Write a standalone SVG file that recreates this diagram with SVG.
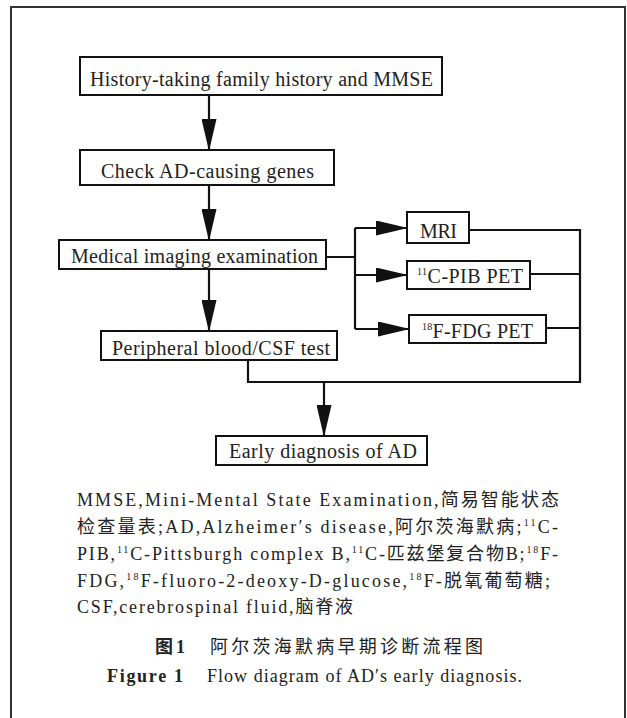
<svg xmlns="http://www.w3.org/2000/svg" width="627" height="718" viewBox="0 0 627 718">
<style>
  .box { fill: #fff; stroke: #111; stroke-width: 2; }
  .lbl { font-family: 'Liberation Serif', 'Noto Sans CJK SC', serif; font-size: 20px; fill: #222; }
  .cap { font-family: 'Liberation Serif', 'Noto Sans CJK SC', serif; font-size: 18px; fill: #222; }
  .bold { font-weight: bold; }
  .sup { font-size: 10px; }
  .line { fill: none; stroke: #111; stroke-width: 2.2; }
  .arrow { fill: none; stroke: #111; stroke-width: 2.2; marker-end: url(#ah); }
</style>
<defs>
  <marker id="ah" viewBox="0 0 32 15" markerWidth="32" markerHeight="15" refX="31" refY="7.5" orient="auto" markerUnits="userSpaceOnUse">
    <path d="M0,0 L32,7.5 L0,15 Z" fill="#111"/>
  </marker>
</defs>
<rect x="0" y="0" width="627" height="718" fill="#fff"/>
<rect x="11" y="7" width="614" height="740" fill="none" stroke="#333" stroke-width="2"/>

<g id="connectors">
  <path class="arrow" d="M209,95 V150"/>
  <path class="arrow" d="M209,185 V240"/>
  <path class="arrow" d="M209,269 V331"/>
  <path class="line" d="M326,257 H355 M355,228 V329"/>
  <path class="arrow" d="M355,228 H407"/>
  <path class="arrow" d="M355,275 H407"/>
  <path class="arrow" d="M355,329 H409"/>
  <path class="line" d="M469,230 H580 M530,274 H580 M546,328 H580 M580,229 V382"/>
  <path class="line" d="M248,360 V382 H581"/>
  <path class="arrow" d="M324,382 V436"/>
</g>

<g id="node-history">
  <rect class="box" x="80" y="57" width="362" height="38"/>
  <text class="lbl" x="90" y="86" textLength="343" lengthAdjust="spacing">History-taking family history and MMSE</text>
</g>
<g id="node-check">
  <rect class="box" x="80" y="150" width="254" height="35"/>
  <text class="lbl" x="101" y="178" textLength="213" lengthAdjust="spacing">Check AD-causing genes</text>
</g>
<g id="node-imaging">
  <rect class="box" x="59" y="240" width="267" height="29"/>
  <text class="lbl" x="71" y="263" textLength="247" lengthAdjust="spacing">Medical imaging examination</text>
</g>
<g id="node-blood">
  <rect class="box" x="101" y="331" width="236" height="29"/>
  <text class="lbl" x="112" y="355" textLength="218" lengthAdjust="spacing">Peripheral blood/CSF test</text>
</g>
<g id="node-mri">
  <rect class="box" x="407" y="212" width="62" height="31"/>
  <text class="lbl" x="420" y="238" textLength="37" lengthAdjust="spacing">MRI</text>
</g>
<g id="node-pib">
  <rect class="box" x="407" y="261" width="123" height="28"/>
  <text class="lbl" x="417" y="283" textLength="106" lengthAdjust="spacing"><tspan class="sup" dy="-8">11</tspan><tspan dy="8">C-PIB PET</tspan></text>
</g>
<g id="node-fdg">
  <rect class="box" x="409" y="315" width="137" height="28"/>
  <text class="lbl" x="422" y="338" textLength="111" lengthAdjust="spacing"><tspan class="sup" dy="-8">18</tspan><tspan dy="8">F-FDG PET</tspan></text>
</g>
<g id="node-early">
  <rect class="box" x="216" y="436" width="211" height="29"/>
  <text class="lbl" x="229" y="458" textLength="188" lengthAdjust="spacing">Early diagnosis of AD</text>
</g>

<g id="caption">
  <text class="cap" x="77" y="506" textLength="482" lengthAdjust="spacing">MMSE,Mini-Mental State Examination,简易智能状态</text>
  <text class="cap" x="77" y="533" textLength="481" lengthAdjust="spacing">检查量表;AD,Alzheimer′s disease,阿尔茨海默病;<tspan class="sup" dy="-7">11</tspan><tspan dy="7">C-</tspan></text>
  <text class="cap" x="77" y="560" textLength="481" lengthAdjust="spacing">PIB,<tspan class="sup" dy="-7">11</tspan><tspan dy="7">C-Pittsburgh complex B,</tspan><tspan class="sup" dy="-7">11</tspan><tspan dy="7">C-匹兹堡复合物B;</tspan><tspan class="sup" dy="-7">18</tspan><tspan dy="7">F-</tspan></text>
  <text class="cap" x="77" y="587" textLength="473" lengthAdjust="spacing">FDG,<tspan class="sup" dy="-7">18</tspan><tspan dy="7">F-fluoro-2-deoxy-D-glucose,</tspan><tspan class="sup" dy="-7">18</tspan><tspan dy="7">F-脱氧葡萄糖;</tspan></text>
  <text class="cap" x="77" y="613" textLength="276" lengthAdjust="spacing">CSF,cerebrospinal fluid,脑脊液</text>
  <text class="cap bold" x="155" y="653" textLength="30" lengthAdjust="spacing">图1</text>
  <text class="cap" x="210" y="653" textLength="273" lengthAdjust="spacing">阿尔茨海默病早期诊断流程图</text>
  <text class="cap bold" x="107" y="682" textLength="76" lengthAdjust="spacing">Figure 1</text>
  <text class="cap" x="207" y="682" textLength="315" lengthAdjust="spacing">Flow diagram of AD′s early diagnosis.</text>
</g>
</svg>
